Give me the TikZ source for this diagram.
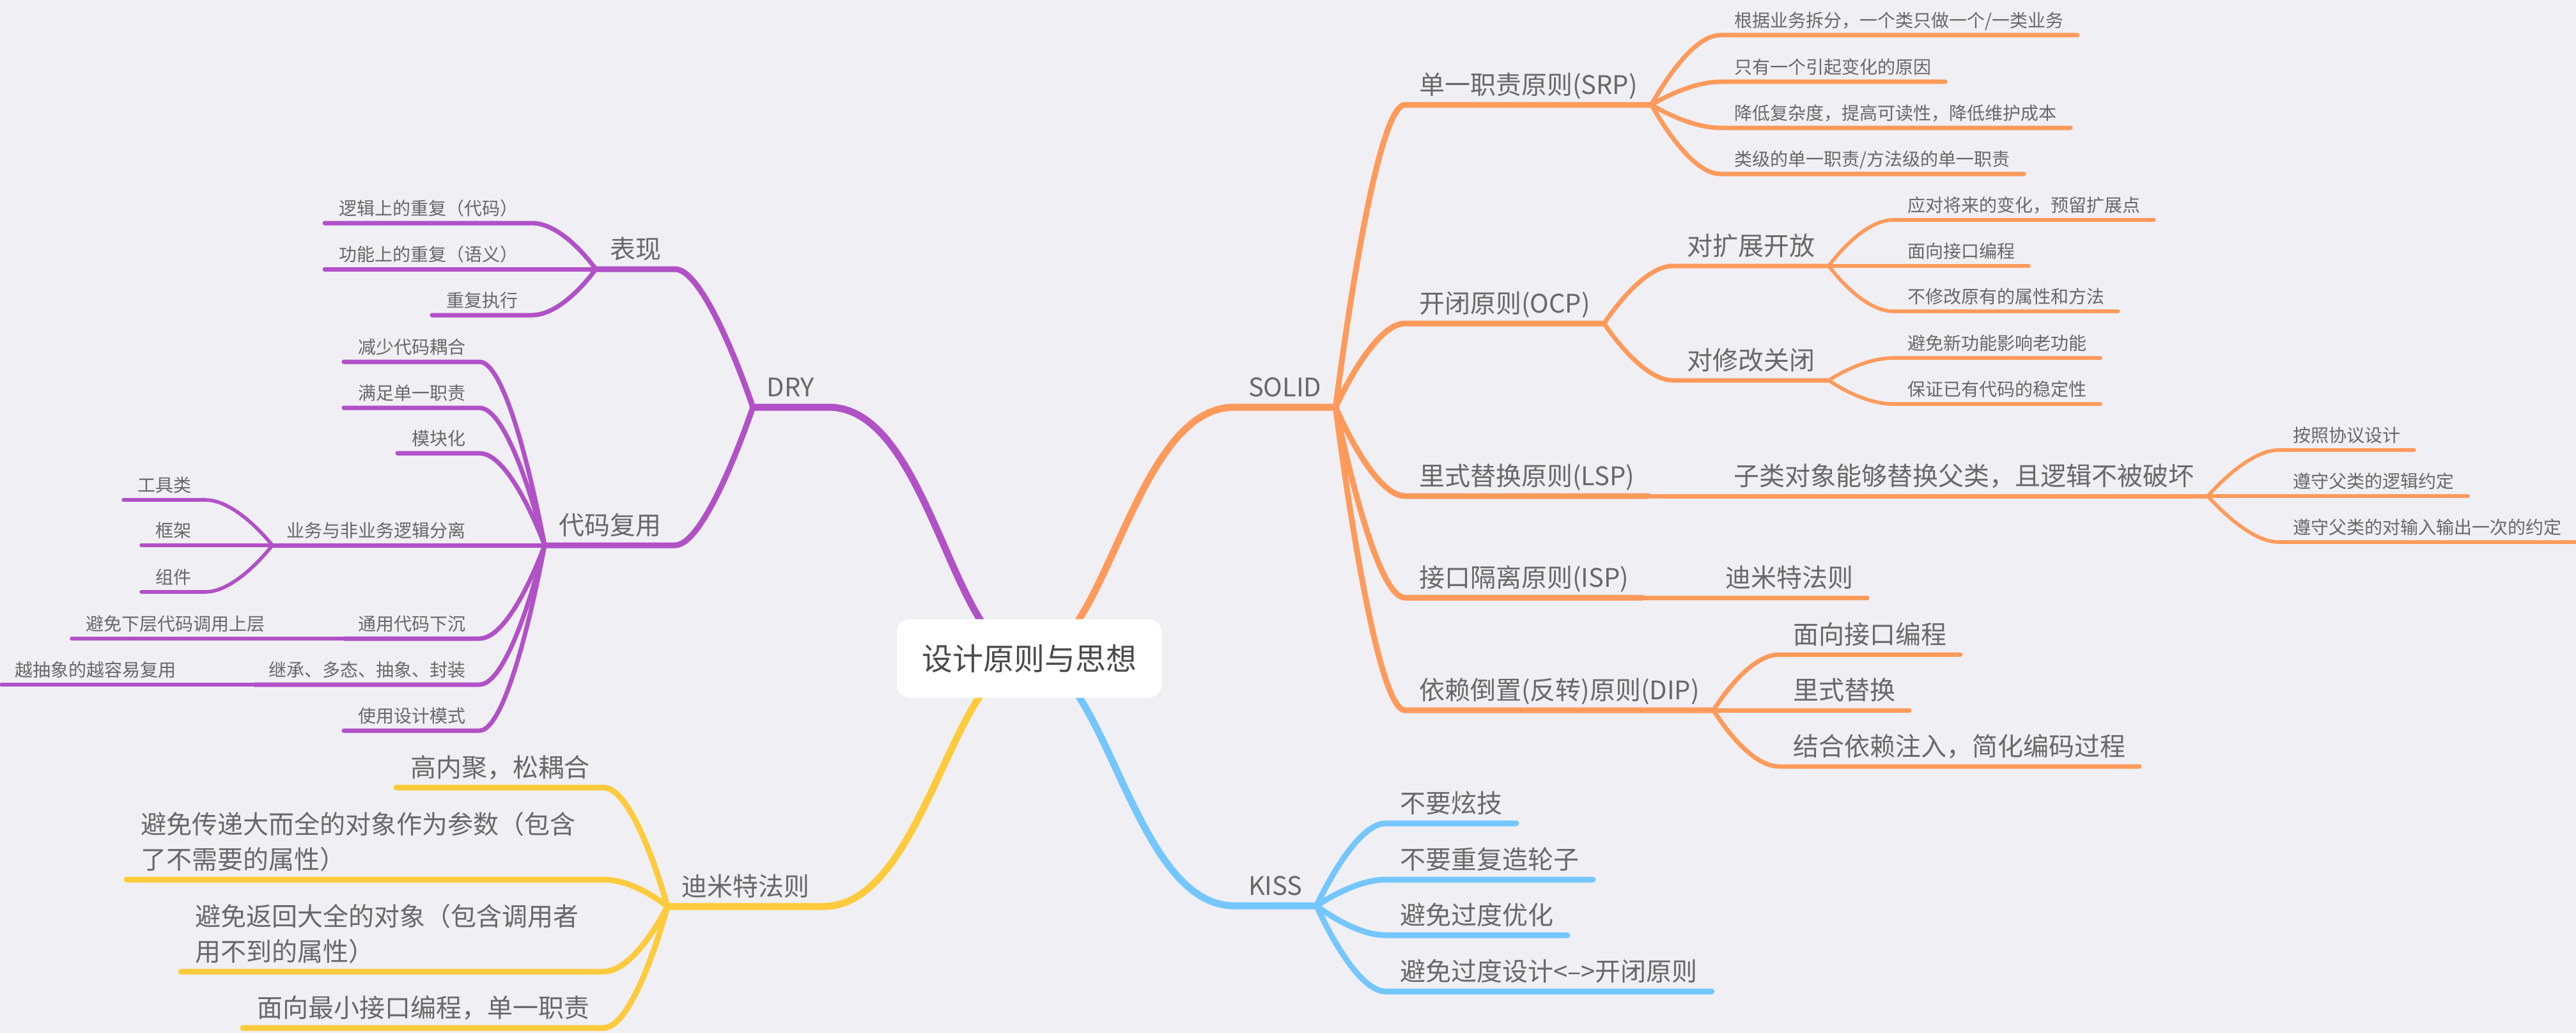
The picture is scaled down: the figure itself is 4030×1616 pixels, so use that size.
\documentclass[tikz,border=0pt]{standalone}
\usepackage{fontspec}
\setmainfont{Noto Sans CJK SC}
\definecolor{paper}{HTML}{EFEFF4}
\definecolor{ink}{HTML}{686868}
\definecolor{rootink}{HTML}{4A4A4A}
\definecolor{solidc}{HTML}{FF9A5B}
\definecolor{dryc}{HTML}{B151C6}
\definecolor{kissc}{HTML}{74C6FF}
\definecolor{lodc}{HTML}{FFCB3C}
\tikzset{
    big/.style={font=\fontsize{20pt}{27.5pt}\selectfont, text depth=3pt, inner ysep=5.4pt},
    small/.style={font=\fontsize{14pt}{18pt}\selectfont, text depth=2pt, inner ysep=4.2pt},
    rt/.style={anchor=south west},
    lt/.style={anchor=south east},
    lv1/.style={line width=5.5pt},
    lv2/.style={line width=4.5pt},
    lv3/.style={line width=3.5pt},
    lv4/.style={line width=2.8pt},
    rootr/.style={to path={.. controls +(120,0) and +(-160,0) .. (\tikztotarget)}},
    rootl/.style={to path={.. controls +(-120,0) and +(160,0) .. (\tikztotarget)}},
    rcurve/.style={to path={.. controls (\tikztostart) and +(-50,0) .. (\tikztotarget)}},
    lcurve/.style={to path={.. controls (\tikztostart) and +(50,0) .. (\tikztotarget)}},
}
\begin{document}
\begin{tikzpicture}[
        x=0.5pt, y=-0.5pt,
        every node/.style={text=ink, inner xsep=11pt, outer sep=0pt},
        every path/.style={line cap=round, line join=round},
    ]
    \useasboundingbox (0,0) rectangle (4030,1616);
    \fill[paper] (0,0) rectangle (4030,1616);
    \coordinate (hub) at (1610,1030);

    % SOLID
    \node[big, rt] (solid) at (1931,637) {SOLID};
    \node[big, rt] (srp) at (2198,164) {单一职责原则(SRP)};
    \node[small, rt] (srp1) at (2691,55) {根据业务拆分，一个类只做一个/一类业务};
    \node[small, rt] (srp2) at (2691,128) {只有一个引起变化的原因};
    \node[small, rt] (srp3) at (2691,200) {降低复杂度，提高可读性，降低维护成本};
    \node[small, rt] (srp4) at (2691,272) {类级的单一职责/方法级的单一职责};
    \node[big, rt] (ocp) at (2198,506) {开闭原则(OCP)};
    \node[big, rt] (ocpopen) at (2617,416) {对扩展开放};
    \node[small, rt] (ocpopen1) at (2962,344) {应对将来的变化，预留扩展点};
    \node[small, rt] (ocpopen2) at (2962,416) {面向接口编程};
    \node[small, rt] (ocpopen3) at (2962,487) {不修改原有的属性和方法};
    \node[big, rt] (ocpshut) at (2617,595) {对修改关闭};
    \node[small, rt] (ocpshut1) at (2962,560) {避免新功能影响老功能};
    \node[small, rt] (ocpshut2) at (2962,632) {保证已有代码的稳定性};
    \node[big, rt] (lsp) at (2198,776) {里式替换原则(LSP)};
    \node[big, rt] (lspsub) at (2690,776) {子类对象能够替换父类，且逻辑不被破坏};
    \node[small, rt] (lspsub1) at (3565,704) {按照协议设计};
    \node[small, rt] (lspsub2) at (3565,776) {遵守父类的逻辑约定};
    \node[small, rt] (lspsub3) at (3565,848) {遵守父类的对输入输出一次的约定};
    \node[big, rt] (isp) at (2198,935) {接口隔离原则(ISP)};
    \node[big, rt] (isplod) at (2677,935) {迪米特法则};
    \node[big, rt] (dip) at (2198,1111) {依赖倒置(反转)原则(DIP)};
    \node[big, rt] (dip1) at (2783,1024) {面向接口编程};
    \node[big, rt] (dip2) at (2783,1111) {里式替换};
    \node[big, rt] (dip3) at (2783,1199) {结合依赖注入，简化编码过程};

    % KISS
    \node[big, rt] (kiss) at (1931,1417) {KISS};
    \node[big, rt] (kiss1) at (2168,1288) {不要炫技};
    \node[big, rt] (kiss2) at (2168,1376) {不要重复造轮子};
    \node[big, rt] (kiss3) at (2168,1463) {避免过度优化};
    \node[big, rt] (kiss4) at (2168,1551) {避免过度设计<–>开闭原则};

    % DRY
    \node[big, lt] (dry) at (1296,637) {DRY};
    \node[big, lt] (shown) at (1056,421) {表现};
    \node[small, lt] (shown1) at (832,349) {逻辑上的重复（代码）};
    \node[small, lt] (shown2) at (832,421) {功能上的重复（语义）};
    \node[small, lt] (shown3) at (832,493) {重复执行};
    \node[big, lt] (reuse) at (1056,853) {代码复用};
    \node[small, lt] (reuse1) at (750,566) {减少代码耦合};
    \node[small, lt] (reuse2) at (750,638) {满足单一职责};
    \node[small, lt] (reuse3) at (750,709) {模块化};
    \node[small, lt] (reuse4) at (750,853) {业务与非业务逻辑分离};
    \node[small, lt] (reuse4a) at (321,782) {工具类};
    \node[small, lt] (reuse4b) at (321,853) {框架};
    \node[small, lt] (reuse4c) at (321,926) {组件};
    \node[small, lt] (reuse5) at (750,999) {通用代码下沉};
    \node[small, lt] (reuse5a) at (436,999) {避免下层代码调用上层};
    \node[small, lt] (reuse6) at (750,1071) {继承、多态、抽象、封装};
    \node[small, lt] (reuse6a) at (298,1071) {越抽象的越容易复用};
    \node[small, lt] (reuse7) at (750,1143) {使用设计模式};

    % 迪米特法则
    \node[big, lt] (lod) at (1288,1418) {迪米特法则};
    \node[big, lt] (lod1) at (944,1232) {高内聚，松耦合};
    \node[big, lt] (lod2) at (944,1376) {\parbox[b]{351pt}{避免传递大而全的对象作为参数（包含\\了不需要的属性）}};
    \node[big, lt] (lod3) at (944,1520) {\parbox[b]{308.5pt}{避免返回大全的对象（包含调用者\\用不到的属性）}};
    \node[big, lt] (lod4) at (944,1608) {面向最小接口编程，单一职责};

    % connectors, each with the underline of its topic
    \draw[solidc, lv1] (hub) to[rootr] (solid.south west) -- (solid.south east);
    \draw[solidc, lv2] (solid.south east) to[rcurve] (srp.south west) -- (srp.south east);
    \draw[solidc, lv3] (srp.south east) to[rcurve] (srp1.south west) -- (srp1.south east);
    \draw[solidc, lv3] (srp.south east) to[rcurve] (srp2.south west) -- (srp2.south east);
    \draw[solidc, lv3] (srp.south east) to[rcurve] (srp3.south west) -- (srp3.south east);
    \draw[solidc, lv3] (srp.south east) to[rcurve] (srp4.south west) -- (srp4.south east);
    \draw[solidc, lv2] (solid.south east) to[rcurve] (ocp.south west) -- (ocp.south east);
    \draw[solidc, lv3] (ocp.south east) to[rcurve] (ocpopen.south west) -- (ocpopen.south east);
    \draw[solidc, lv4] (ocpopen.south east) to[rcurve] (ocpopen1.south west) -- (ocpopen1.south east);
    \draw[solidc, lv4] (ocpopen.south east) to[rcurve] (ocpopen2.south west) -- (ocpopen2.south east);
    \draw[solidc, lv4] (ocpopen.south east) to[rcurve] (ocpopen3.south west) -- (ocpopen3.south east);
    \draw[solidc, lv3] (ocp.south east) to[rcurve] (ocpshut.south west) -- (ocpshut.south east);
    \draw[solidc, lv4] (ocpshut.south east) to[rcurve] (ocpshut1.south west) -- (ocpshut1.south east);
    \draw[solidc, lv4] (ocpshut.south east) to[rcurve] (ocpshut2.south west) -- (ocpshut2.south east);
    \draw[solidc, lv2] (solid.south east) to[rcurve] (lsp.south west) -- (lsp.south east);
    \draw[solidc, lv3] (lsp.south east) to[rcurve] (lspsub.south west) -- (lspsub.south east);
    \draw[solidc, lv4] (lspsub.south east) to[rcurve] (lspsub1.south west) -- (lspsub1.south east);
    \draw[solidc, lv4] (lspsub.south east) to[rcurve] (lspsub2.south west) -- (lspsub2.south east);
    \draw[solidc, lv4] (lspsub.south east) to[rcurve] (lspsub3.south west) -- (lspsub3.south east);
    \draw[solidc, lv2] (solid.south east) to[rcurve] (isp.south west) -- (isp.south east);
    \draw[solidc, lv3] (isp.south east) to[rcurve] (isplod.south west) -- (isplod.south east);
    \draw[solidc, lv2] (solid.south east) to[rcurve] (dip.south west) -- (dip.south east);
    \draw[solidc, lv3] (dip.south east) to[rcurve] (dip1.south west) -- (dip1.south east);
    \draw[solidc, lv3] (dip.south east) to[rcurve] (dip2.south west) -- (dip2.south east);
    \draw[solidc, lv3] (dip.south east) to[rcurve] (dip3.south west) -- (dip3.south east);

    \draw[kissc, lv1] (hub) to[rootr] (kiss.south west) -- (kiss.south east);
    \draw[kissc, lv2] (kiss.south east) to[rcurve] (kiss1.south west) -- (kiss1.south east);
    \draw[kissc, lv2] (kiss.south east) to[rcurve] (kiss2.south west) -- (kiss2.south east);
    \draw[kissc, lv2] (kiss.south east) to[rcurve] (kiss3.south west) -- (kiss3.south east);
    \draw[kissc, lv2] (kiss.south east) to[rcurve] (kiss4.south west) -- (kiss4.south east);

    \draw[dryc, lv1] (hub) to[rootl] (dry.south east) -- (dry.south west);
    \draw[dryc, lv2] (dry.south west) to[lcurve] (shown.south east) -- (shown.south west);
    \draw[dryc, lv3] (shown.south west) to[lcurve] (shown1.south east) -- (shown1.south west);
    \draw[dryc, lv3] (shown.south west) to[lcurve] (shown2.south east) -- (shown2.south west);
    \draw[dryc, lv3] (shown.south west) to[lcurve] (shown3.south east) -- (shown3.south west);
    \draw[dryc, lv2] (dry.south west) to[lcurve] (reuse.south east) -- (reuse.south west);
    \draw[dryc, lv3] (reuse.south west) to[lcurve] (reuse1.south east) -- (reuse1.south west);
    \draw[dryc, lv3] (reuse.south west) to[lcurve] (reuse2.south east) -- (reuse2.south west);
    \draw[dryc, lv3] (reuse.south west) to[lcurve] (reuse3.south east) -- (reuse3.south west);
    \draw[dryc, lv3] (reuse.south west) to[lcurve] (reuse4.south east) -- (reuse4.south west);
    \draw[dryc, lv4] (reuse4.south west) to[lcurve] (reuse4a.south east) -- (reuse4a.south west);
    \draw[dryc, lv4] (reuse4.south west) to[lcurve] (reuse4b.south east) -- (reuse4b.south west);
    \draw[dryc, lv4] (reuse4.south west) to[lcurve] (reuse4c.south east) -- (reuse4c.south west);
    \draw[dryc, lv3] (reuse.south west) to[lcurve] (reuse5.south east) -- (reuse5.south west);
    \draw[dryc, lv4] (reuse5.south west) to[lcurve] (reuse5a.south east) -- (reuse5a.south west);
    \draw[dryc, lv3] (reuse.south west) to[lcurve] (reuse6.south east) -- (reuse6.south west);
    \draw[dryc, lv4] (reuse6.south west) to[lcurve] (reuse6a.south east) -- (reuse6a.south west);
    \draw[dryc, lv3] (reuse.south west) to[lcurve] (reuse7.south east) -- (reuse7.south west);

    \draw[lodc, lv1] (hub) to[rootl] (lod.south east) -- (lod.south west);
    \draw[lodc, lv2] (lod.south west) to[lcurve] (lod1.south east) -- (lod1.south west);
    \draw[lodc, lv2] (lod.south west) to[lcurve] (lod2.south east) -- (lod2.south west);
    \draw[lodc, lv2] (lod.south west) to[lcurve] (lod3.south east) -- (lod3.south west);
    \draw[lodc, lv2] (lod.south west) to[lcurve] (lod4.south east) -- (lod4.south west);

    % centre topic on top
    \node[fill=white, rounded corners=10pt, minimum width=207pt, minimum height=61.5pt,
        text=rootink, font=\fontsize{24pt}{30pt}\selectfont] (root) at (hub) {设计原则与思想};
\end{tikzpicture}
\end{document}
